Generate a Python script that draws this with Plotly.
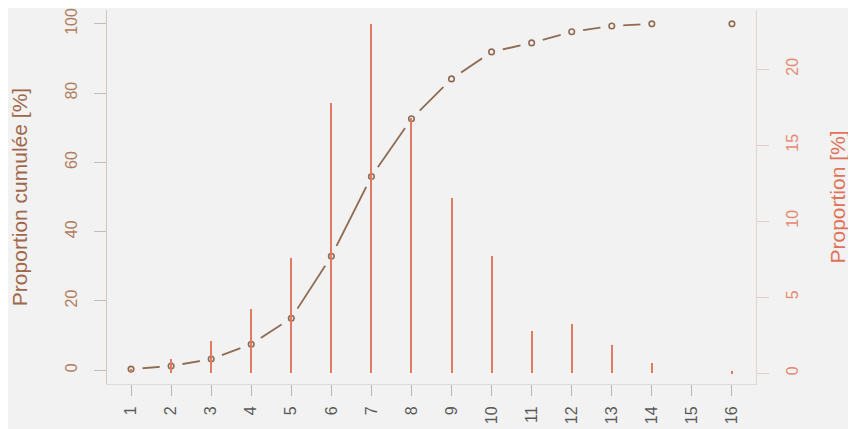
import plotly.graph_objects as go

# Data
categories = list(range(1, 17))
proportion = [0.3, 0.9, 2.1, 4.2, 7.6, 17.8, 23.0, 16.8, 11.55, 7.7, 2.8, 3.2, 1.85, 0.66, 0.0, 0.13]
cumulative = [0.3, 1.2, 3.2, 7.5, 15.0, 32.9, 55.9, 72.6, 84.1, 91.9, 94.5, 97.7, 99.4, 100.0, None, 100.0]
left_ticks = [0, 20, 40, 60, 80, 100]
right_ticks = [0, 5, 10, 15, 20]

BG = "#f2f2f2"
BROWN = "#8f6b52"
BAR = "#e07a62"
FONT = "Liberation Sans, Arial, sans-serif"
LEFT_RANGE = [-4, 104]

fig = go.Figure()

# cumulative line (R type="b": segments with gaps around points)
fig.add_trace(go.Scatter(x=categories, y=cumulative, mode="lines",
                         line=dict(color=BROWN, width=1.8), connectgaps=False,
                         hoverinfo="skip", showlegend=False, yaxis="y"))
# gap masks around points, on an overlay layer above the line
fig.add_trace(go.Scatter(x=categories, y=cumulative, mode="markers",
                         marker=dict(symbol="circle", size=23, color=BG, opacity=1,
                                     line=dict(width=0, color=BG)),
                         hoverinfo="skip", showlegend=False, yaxis="y2"))
# open circle points
fig.add_trace(go.Scatter(x=categories, y=cumulative, mode="markers",
                         marker=dict(symbol="circle-open", size=5.5, color=BROWN, opacity=1,
                                     line=dict(width=1.6, color=BROWN)),
                         showlegend=False, yaxis="y2", name="Proportion cumulée"))
# proportion spikes (type="h") on the top layer
fig.add_trace(go.Bar(x=categories, y=proportion, width=0.05,
                     marker=dict(color=BAR, line=dict(width=0)),
                     showlegend=False, yaxis="y3", name="Proportion"))

fig.update_layout(
    width=848, height=421,
    margin=dict(l=99, r=100, t=2, b=45),
    paper_bgcolor=BG, plot_bgcolor=BG,
    font=dict(family=FONT, size=15),
    bargap=0,
    xaxis=dict(range=[0.4, 16.6], tickvals=categories, ticktext=[str(c) for c in categories],
               tickangle=-90, ticks="outside", ticklen=11, tickcolor="#b5b5b5", tickwidth=1,
               showgrid=False, zeroline=False, showline=True, linecolor="#dcdcdc", linewidth=1,
               tickfont=dict(color="#5a5a5a", size=16), ticklabelstandoff=4, automargin=False),
    yaxis=dict(range=LEFT_RANGE, tickvals=left_ticks, tickangle=-90, ticks="outside", ticklen=12,
               tickcolor="#c9bdb1", showgrid=False, zeroline=False, showline=True,
               linecolor="#d2c8be", linewidth=1, tickfont=dict(color="#b07d61", size=16),
               ticklabelstandoff=11, automargin=False,
               title=dict(text="Proportion cumulée [%]", font=dict(color="#a0684a", size=21), standoff=30)),
    yaxis2=dict(range=LEFT_RANGE, overlaying="y", visible=False, automargin=False),
    yaxis3=dict(range=[-0.72, 23.9], tickvals=right_ticks, tickangle=-90, overlaying="y", side="right",
                ticks="outside", ticklen=12, tickcolor="#e6cbc3", showgrid=False, zeroline=False,
                showline=True, linecolor="#e3d6d2", linewidth=1, tickfont=dict(color="#e58a73", size=16),
                ticklabelstandoff=10, automargin=False,
                title=dict(text="Proportion [%]", font=dict(color="#e0735a", size=21), standoff=30)),
)

fig.write_html("out.html")
